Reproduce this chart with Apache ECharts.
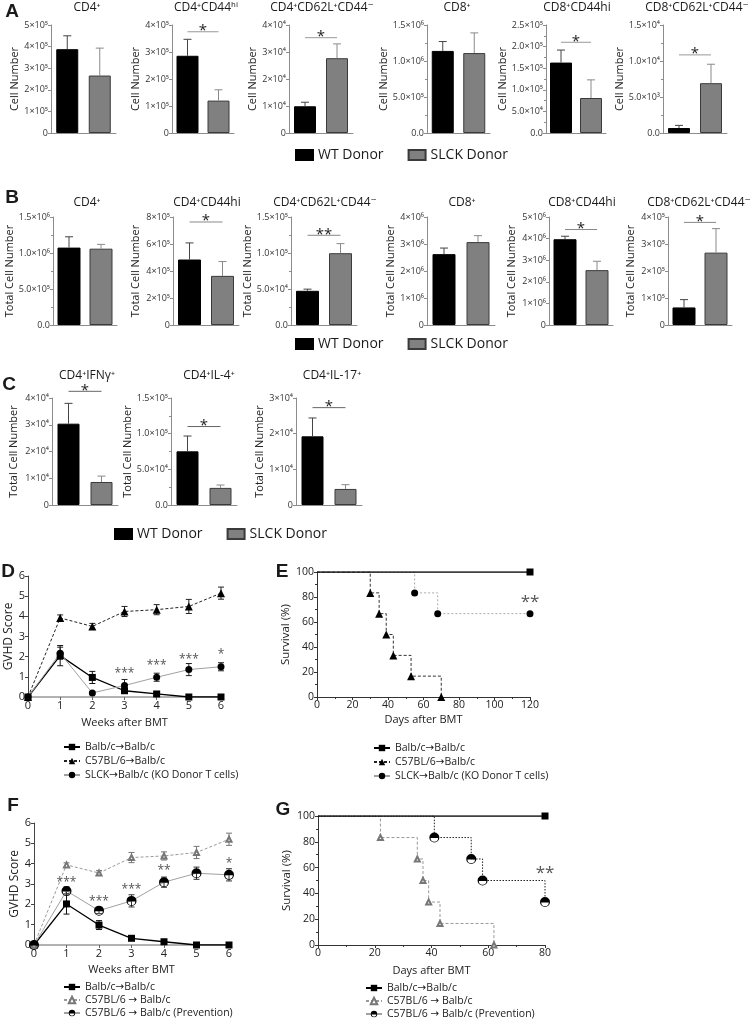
<!DOCTYPE html>
<html>
<head>
<meta charset="utf-8">
<script src="https://cdn.jsdelivr.net/npm/echarts@6/dist/echarts.min.js"></script>
<style>
  html, body { margin: 0; padding: 0; background: #fff; }
  #chart { width: 750px; height: 1027px; }
</style>
</head>
<body>
<div id="chart"></div>
<script>
// ---------- data ----------
const groups = ['WT Donor', 'SLCK Donor'];

// panel A (cell number)
const aTitles = ['CD4⁺', 'CD4⁺CD44ʰⁱ', 'CD4⁺CD62L⁺CD44⁻', 'CD8⁺', 'CD8⁺CD44hi', 'CD8⁺CD62L⁺CD44⁻'];
const aWt = [3.88e5, 2.86e5, 0.99e4, 1.14e6, 1.63e5, 690];
const aWtSd = [0.62e5, 0.61e5, 0.15e4, 0.13e6, 0.29e5, 370];
const aSlck = [2.66e5, 1.2e5, 2.77e4, 1.11e6, 0.81e5, 6.92e3];
const aSlckSd = [1.27e5, 0.4e5, 0.53e4, 0.28e6, 0.42e5, 2.63e3];
const aSig = [null, 3.75e5, 3.53e4, null, 2.1e5, 1.085e4];
const aSigText = ['', '*', '*', '', '*', '*'];
const aMax = [5e5, 4e5, 4e4, 1.5e6, 2.5e5, 1.5e4];
const aStep = [1e5, 1e5, 1e4, 5e5, 5e4, 5e3];

// panel B (total cell number)
const bTitles = ['CD4⁺', 'CD4⁺CD44hi', 'CD4⁺CD62L⁺CD44⁻', 'CD8⁺', 'CD8⁺CD44hi', 'CD8⁺CD62L⁺CD44⁻'];
const bWt = [1.075e6, 4.85e5, 4.75e4, 2.625e6, 3.97e6, 0.65e5];
const bWtSd = [0.15e6, 1.23e5, 0.23e4, 0.225e6, 0.14e6, 0.29e5];
const bSlck = [1.06e6, 3.64e5, 9.97e4, 3.07e6, 2.54e6, 2.68e5];
const bSlckSd = [0.06e6, 1.06e5, 1.33e4, 0.24e6, 0.41e6, 0.89e5];
const bSig = [null, 7.63e5, 1.246e5, null, 4.42e6, 3.8e5];
const bSigText = ['', '*', '**', '', '*', '*'];
const bMax = [1.5e6, 8e5, 1.5e5, 4e6, 5e6, 4e5];
const bStep = [5e5, 2e5, 5e4, 1e6, 1e6, 1e5];

// panel C (cytokine producing cells)
const cTitles = ['CD4⁺IFNγ⁺', 'CD4⁺IL-4⁺', 'CD4⁺IL-17⁺'];
const cWt = [3.04e4, 7.52e4, 1.925e4];
const cWtSd = [0.76e4, 2.15e4, 0.515e4];
const cSlck = [0.86e4, 2.4e4, 0.45e4];
const cSlckSd = [0.22e4, 0.4e4, 0.12e4];
const cSig = [4.25e4, 1.10e5, 2.73e4];
const cSigText = ['*', '*', '*'];
const cMax = [4e4, 1.5e5, 3e4];
const cStep = [1e4, 5e4, 1e4];

// panel D (GVHD score)
const weeks = [0, 1, 2, 3, 4, 5, 6];
const dBalb = [0, 2.05, 0.97, 0.31, 0.15, 0, 0];
const dBalbSd = [0, 0.5, 0.3, 0.1, 0.07, 0, 0];
const dC57 = [0, 3.92, 3.5, 4.24, 4.33, 4.49, 5.15];
const dC57Sd = [0, 0.15, 0.15, 0.25, 0.25, 0.35, 0.3];
const dSlck = [0, 2.17, 0.2, 0.57, 0.98, 1.36, 1.5];
const dSlckSd = [0, 0.3, 0.05, 0.3, 0.2, 0.3, 0.2];
const dSigWeek = [3, 4, 5, 6];
const dSigY = [1.18, 1.54, 1.88, 2.1];
const dSigText = ['***', '***', '***', '*'];

// panel E (survival, days)
const eBalb = [[0, 100], [120, 100]];
const eC57 = [[0, 100], [30, 83.3], [35, 66.7], [39, 50], [43, 33.3], [53, 16.7], [70, 0]];
const eSlck = [[0, 100], [55, 83.3], [68, 66.7], [120, 66.7]];
const eSig = [[120, 76]];

// panel F (GVHD score, prevention)
const fBalb = [0, 2.02, 0.98, 0.33, 0.16, 0, 0];
const fBalbSd = [0, 0.5, 0.22, 0.05, 0.05, 0, 0];
const fC57 = [0, 3.94, 3.54, 4.3, 4.38, 4.55, 5.2];
const fC57Sd = [0, 0.1, 0.12, 0.25, 0.2, 0.3, 0.3];
const fPrev = [0, 2.66, 1.69, 2.17, 3.09, 3.53, 3.45];
const fPrevSd = [0, 0.2, 0.15, 0.3, 0.25, 0.3, 0.3];
const fSigWeek = [1, 2, 3, 4, 6];
const fSigY = [3.05, 2.13, 2.75, 3.64, 3.98];
const fSigText = ['***', '***', '***', '**', '*'];

// panel G (survival, prevention)
const gBalb = [[0, 100], [80, 100]];
const gC57 = [[0, 100], [22, 83.3], [35, 66.7], [37, 50], [39, 33.3], [43, 16.7], [62, 0]];
const gPrev = [[0, 100], [41, 83.3], [54, 66.7], [58, 50], [80, 33.3]];
const gSig = [[80, 56]];

// ---------- helpers ----------
const FONT = '"Open Sans", "DejaVu Sans", sans-serif';
const LETTER_FONT = 'bold 19px "Liberation Sans", Arial, sans-serif';
const SUP = '⁰¹²³⁴⁵⁶⁷⁸⁹';
const HALF = 'path://M-10,0A10,10,0,1,1,10,0A10,10,0,1,1,-10,0ZM-7.5,1A7.5,7.5,0,0,0,7.5,1L-7.5,1Z';

const NAME_BALB = 'Balb/c→Balb/c';
const NAME_C57 = 'C57BL/6→Balb/c';
const NAME_SLCK = 'SLCK→Balb/c (KO Donor T cells)';
const NAME_C57F = 'C57BL/6 → Balb/c';
const NAME_PREV = 'C57BL/6 → Balb/c (Prevention)';

const grids = [], xAxes = [], yAxes = [], series = [], graphics = [], legends = [];

function sci(v, dec) {
  if (v === 0) return dec ? '0.0' : '0';
  const e = Math.floor(Math.log10(v) + 1e-9);
  const m = v / Math.pow(10, e);
  const ms = dec ? m.toFixed(1) : String(Math.round(m));
  return ms + '×10' + String(e).split('').map(d => SUP[+d]).join('');
}

function text(str, x, y, font, color) {
  graphics.push({
    type: 'text', x: x, y: y, silent: true,
    style: { text: str, font: font, fill: color || '#1a1a1a', textAlign: 'center', textVerticalAlign: 'middle' }
  });
}

// upward error bar on a bar
function upErr(colors) {
  return function (params, api) {
    const x = api.value(0);
    const lo = api.coord([x, api.value(1)]);
    const hi = api.coord([x, api.value(2)]);
    const st = { stroke: colors[params.dataIndex], lineWidth: 1 };
    return {
      type: 'group', children: [
        { type: 'line', shape: { x1: lo[0], y1: lo[1], x2: hi[0], y2: hi[1] }, style: st },
        { type: 'line', shape: { x1: hi[0] - 4, y1: hi[1], x2: hi[0] + 4, y2: hi[1] }, style: st }
      ]
    };
  };
}

// two sided error bar on a point
function bothErr(color) {
  return function (params, api) {
    const x = api.value(0);
    const lo = api.coord([x, api.value(1)]);
    const hi = api.coord([x, api.value(2)]);
    const st = { stroke: color, lineWidth: 1 };
    return {
      type: 'group', children: [
        { type: 'line', shape: { x1: lo[0], y1: lo[1], x2: hi[0], y2: hi[1] }, style: st },
        { type: 'line', shape: { x1: hi[0] - 3, y1: hi[1], x2: hi[0] + 3, y2: hi[1] }, style: st },
        { type: 'line', shape: { x1: lo[0] - 3, y1: lo[1], x2: lo[0] + 3, y2: lo[1] }, style: st }
      ]
    };
  };
}

// significance line between the two bars
function sigBar(label, color) {
  return function (params, api) {
    const y = api.value(1);
    const a = api.coord([0, y]);
    const b = api.coord([1, y]);
    return {
      type: 'group', children: [
        { type: 'line', shape: { x1: a[0], y1: a[1], x2: b[0], y2: b[1] }, style: { stroke: color, lineWidth: 1 } },
        { type: 'text', style: { x: (a[0] + b[0]) / 2, y: a[1] - 1, text: label, fill: '#222', font: '15px ' + FONT, textAlign: 'center', textVerticalAlign: 'middle' } }
      ]
    };
  };
}

function starText(labels, size) {
  return function (params, api) {
    const p = api.coord([api.value(0), api.value(1)]);
    return { type: 'text', style: { x: p[0], y: p[1], text: labels[params.dataIndex], fill: '#555', font: size + 'px ' + FONT, textAlign: 'center', textVerticalAlign: 'middle' } };
  };
}

function axisBase(color) {
  return {
    axisLine: { show: true, onZero: false, lineStyle: { color: color } },
    axisTick: { show: true, length: 3, lineStyle: { color: color } },
    splitLine: { show: false }
  };
}

function barPanel(c) {
  c.titles.forEach(function (title, i) {
    const gi = grids.length;
    const dec = Math.round(c.step[i] / Math.pow(10, Math.floor(Math.log10(c.step[i]) + 1e-9))) === 5;
    grids.push({ left: c.lefts[i], top: c.top, width: c.widths[i], height: c.height, outerBoundsMode: 'none' });
    xAxes.push(Object.assign(axisBase('#8c8c8c'), {
      gridIndex: gi, type: 'category', data: groups,
      axisLabel: { show: false }, axisTick: { show: false }
    }));
    yAxes.push(Object.assign(axisBase('#8c8c8c'), {
      gridIndex: gi, type: 'value', min: 0, max: c.max[i], interval: c.step[i],
      name: c.yName, nameLocation: 'middle', nameGap: c.gaps[i],
      nameTextStyle: { fontSize: 11, color: '#222', fontFamily: FONT },
      minorTick: { show: dec, splitNumber: 2, length: 2, lineStyle: { color: '#8c8c8c' } },
      axisLabel: { fontSize: 9, color: '#333', margin: 3, fontFamily: FONT, formatter: function (v) { return sci(v, dec); } }
    }));
    series.push({
      name: groups[0], type: 'bar', xAxisIndex: gi, yAxisIndex: gi, data: [c.wt[i], '-'],
      barWidth: c.barWidth, barGap: '-100%', itemStyle: { color: '#000', borderColor: '#000', borderWidth: 1 }
    });
    series.push({
      name: groups[1], type: 'bar', xAxisIndex: gi, yAxisIndex: gi, data: ['-', c.slck[i]],
      barWidth: c.barWidth, barGap: '-100%', itemStyle: { color: '#808080', borderColor: '#3a3a3a', borderWidth: 1 }
    });
    series.push({
      type: 'custom', xAxisIndex: gi, yAxisIndex: gi, silent: true, z: 3,
      data: [[0, c.wt[i], c.wt[i] + c.wtSd[i]], [1, c.slck[i], c.slck[i] + c.slckSd[i]]],
      renderItem: upErr(['#444', '#8a8a8a'])
    });
    if (c.sig[i] != null) {
      series.push({
        type: 'custom', xAxisIndex: gi, yAxisIndex: gi, silent: true, z: 3,
        data: [[0, c.sig[i]]], renderItem: sigBar(c.sigText[i], c.sigColor)
      });
    }
    text(title, c.titleX[i], c.titleY, '12px ' + FONT, '#1a1a1a');
  });
  legends.push({
    data: groups, left: c.legendLeft, top: c.legendTop, icon: 'rect', itemWidth: 17, itemHeight: 10,
    itemGap: 24, padding: 0, textStyle: { fontSize: 14, color: '#1a1a1a', fontFamily: FONT }
  });
}

function lineLegend(names, left, top, gap) {
  legends.push({
    data: names, orient: 'vertical', left: left, top: top, itemWidth: 16, itemHeight: 8, itemGap: gap,
    padding: 0, textStyle: { fontSize: 10.5, lineHeight: 12, color: '#222', fontFamily: FONT }
  });
}

function scorePanel(p) {
  const gi = grids.length;
  grids.push({ left: p.left, top: p.top, width: p.width, height: p.height, outerBoundsMode: 'none' });
  xAxes.push(Object.assign(axisBase('#666'), {
    gridIndex: gi, type: 'value', min: 0, max: 6, interval: 1,
    name: 'Weeks after BMT', nameLocation: 'middle', nameGap: p.xGap,
    nameTextStyle: { fontSize: 11, color: '#222', fontFamily: FONT },
    axisLine: { show: true, onZero: false, lineStyle: { color: '#999', width: 1.5 } },
    axisLabel: { fontSize: 11, color: '#222', margin: 3, fontFamily: FONT }
  }));
  yAxes.push(Object.assign(axisBase('#444'), {
    gridIndex: gi, type: 'value', min: 0, max: 6, interval: 1,
    name: 'GVHD Score', nameLocation: 'middle', nameGap: p.yGap,
    nameTextStyle: { fontSize: 12, color: '#222', fontFamily: FONT },
    axisLabel: { fontSize: 11, color: '#222', margin: 3, fontFamily: FONT }
  }));
  p.lines.forEach(function (l) {
    const errs = [];
    weeks.forEach(function (w, i) {
      if (l.sd[i] > 0) errs.push([w, l.y[i] - l.sd[i], l.y[i] + l.sd[i]]);
    });
    series.push({ type: 'custom', xAxisIndex: gi, yAxisIndex: gi, silent: true, z: 2, data: errs, renderItem: bothErr(l.errColor) });
    series.push({
      name: l.name, type: 'line', xAxisIndex: gi, yAxisIndex: gi, z: 3,
      data: weeks.map(function (w, i) { return [w, l.y[i]]; }),
      symbol: l.symbol, symbolSize: l.size, lineStyle: l.line, itemStyle: l.item
    });
  });
  series.push({
    type: 'custom', xAxisIndex: gi, yAxisIndex: gi, silent: true, z: 4,
    data: p.sigWeek.map(function (w, i) { return [w, p.sigY[i]]; }), renderItem: starText(p.sigText, 12)
  });
}

function survivalPanel(p) {
  const gi = grids.length;
  grids.push({ left: p.left, top: p.top, width: p.width, height: p.height, outerBoundsMode: 'none' });
  xAxes.push(Object.assign(axisBase('#333'), {
    gridIndex: gi, type: 'value', min: 0, max: p.xMax, interval: 20,
    name: 'Days after BMT', nameLocation: 'middle', nameGap: p.xGap,
    nameTextStyle: { fontSize: 11, color: '#222', fontFamily: FONT },
    minorTick: { show: true, splitNumber: 2, length: 2, lineStyle: { color: '#333' } },
    axisLabel: { fontSize: 10.5, color: '#222', margin: 3, fontFamily: FONT }
  }));
  yAxes.push(Object.assign(axisBase('#333'), {
    gridIndex: gi, type: 'value', min: 0, max: 100, interval: 20,
    name: 'Survival (%)', nameLocation: 'middle', nameGap: p.yGap,
    nameTextStyle: { fontSize: 11.5, color: '#222', fontFamily: FONT },
    minorTick: { show: true, splitNumber: 2, length: 2, lineStyle: { color: '#333' } },
    axisLabel: { fontSize: 10.5, color: '#222', margin: 3, fontFamily: FONT }
  }));
  p.lines.forEach(function (l) {
    series.push({
      name: l.name, type: 'line', step: 'end', xAxisIndex: gi, yAxisIndex: gi, z: l.z || 3,
      data: l.data.map(function (pt, i) { return i === 0 ? { value: pt, symbol: 'none' } : pt; }),
      symbol: l.symbol, symbolSize: l.size, lineStyle: l.line, itemStyle: l.item
    });
  });
  series.push({
    type: 'custom', xAxisIndex: gi, yAxisIndex: gi, silent: true, z: 4,
    data: p.sig, renderItem: starText(['**'], 17)
  });
}

// ---------- layout ----------
barPanel({
  titles: aTitles, wt: aWt, wtSd: aWtSd, slck: aSlck, slckSd: aSlckSd, sig: aSig, sigText: aSigText,
  max: aMax, step: aStep, yName: 'Cell Number', sigColor: '#999',
  lefts: [51, 172, 289, 427, 546, 663], widths: [65, 62, 64, 63, 60, 64], gaps: [30, 31, 27, 33, 32, 29],
  top: 25, height: 108, barWidth: 22, titleX: [87, 206, 322, 457, 577, 697], titleY: 8,
  legendLeft: 295, legendTop: 148
});
barPanel({
  titles: bTitles, wt: bWt, wtSd: bWtSd, slck: bSlck, slckSd: bSlckSd, sig: bSig, sigText: bSigText,
  max: bMax, step: bStep, yName: 'Total Cell Number', sigColor: '#888',
  lefts: [53, 173, 291, 427, 549, 668], widths: [64, 66, 66, 68, 64, 64], gaps: [33, 32, 32, 30, 32, 32],
  top: 217, height: 108, barWidth: 23, titleX: [87, 207, 325, 462, 582, 699], titleY: 203,
  legendLeft: 295, legendTop: 337
});
barPanel({
  titles: cTitles, wt: cWt, wtSd: cWtSd, slck: cSlck, slckSd: cSlckSd, sig: cSig, sigText: cSigText,
  max: cMax, step: cStep, yName: 'Total Cell Number', sigColor: '#666',
  lefts: [52, 171, 296], widths: [66, 66, 66], gaps: [33, 30, 29],
  top: 398, height: 107, barWidth: 22, titleX: [87, 209, 332], titleY: 376,
  legendLeft: 114, legendTop: 527
});

scorePanel({
  left: 28, top: 576, width: 193, height: 121, xGap: 20, yGap: 13,
  sigWeek: dSigWeek, sigY: dSigY, sigText: dSigText,
  lines: [
    { name: NAME_BALB, y: dBalb, sd: dBalbSd, errColor: '#111', symbol: 'rect', size: 7,
      line: { color: '#000', width: 1.3 }, item: { color: '#000' } },
    { name: NAME_C57, y: dC57, sd: dC57Sd, errColor: '#222', symbol: 'triangle', size: 8,
      line: { color: '#222', width: 1, type: [3, 2] }, item: { color: '#000' } },
    { name: NAME_SLCK, y: dSlck, sd: dSlckSd, errColor: '#222', symbol: 'circle', size: 7,
      line: { color: '#a0a0a0', width: 1 }, item: { color: '#000' } }
  ]
});
survivalPanel({
  left: 317, top: 572, width: 213, height: 125, xMax: 120, xGap: 17, yGap: 25, sig: eSig,
  lines: [
    { name: NAME_BALB, data: eBalb, symbol: 'rect', size: 7, line: { color: '#000', width: 1.5 }, item: { color: '#000' }, z: 5 },
    { name: NAME_C57, data: eC57, symbol: 'triangle', size: 8, line: { color: '#333', width: 1, type: [3, 2] }, item: { color: '#000' } },
    { name: NAME_SLCK, data: eSlck, symbol: 'circle', size: 7, line: { color: '#aaa', width: 1, type: [2, 2] }, item: { color: '#000' } }
  ]
});
scorePanel({
  left: 34, top: 823, width: 195, height: 122, xGap: 19, yGap: 10,
  sigWeek: fSigWeek, sigY: fSigY, sigText: fSigText,
  lines: [
    { name: NAME_BALB, y: fBalb, sd: fBalbSd, errColor: '#111', symbol: 'rect', size: 7,
      line: { color: '#000', width: 1.3 }, item: { color: '#000' } },
    { name: NAME_C57F, y: fC57, sd: fC57Sd, errColor: '#777', symbol: 'emptyTriangle', size: 5,
      line: { color: '#999', width: 1, type: [3, 2] }, item: { color: '#777' } },
    { name: NAME_PREV, y: fPrev, sd: fPrevSd, errColor: '#333', symbol: HALF, size: 10,
      line: { color: '#a0a0a0', width: 1 }, item: { color: '#000' } }
  ]
});
survivalPanel({
  left: 318, top: 816, width: 227, height: 129, xMax: 80, xGap: 20, yGap: 20, sig: gSig,
  lines: [
    { name: NAME_BALB, data: gBalb, symbol: 'rect', size: 7, line: { color: '#000', width: 1.5 }, item: { color: '#000' }, z: 5 },
    { name: NAME_C57F, data: gC57, symbol: 'emptyTriangle', size: 5, line: { color: '#999', width: 1, type: [3, 2] }, item: { color: '#777' } },
    { name: NAME_PREV, data: gPrev, symbol: HALF, size: 10, line: { color: '#222', width: 1, type: [1.5, 1.5] }, item: { color: '#000' } }
  ]
});

lineLegend([NAME_BALB, NAME_C57, NAME_SLCK], 63, 741, 2);
lineLegend([NAME_BALB, NAME_C57, NAME_SLCK], 373, 742, 2);
lineLegend([NAME_BALB, NAME_C57F, NAME_PREV], 63, 981, 1);
lineLegend([NAME_BALB, NAME_C57F, NAME_PREV], 365, 982, 1);

// panel letters
text('A', 12, 12, LETTER_FONT);
text('B', 12, 198, LETTER_FONT);
text('C', 9, 385, LETTER_FONT);
text('D', 8, 572, LETTER_FONT);
text('E', 282, 572, LETTER_FONT);
text('F', 13, 806, LETTER_FONT);
text('G', 283, 810, LETTER_FONT);

const myChart = echarts.init(document.getElementById('chart'));
myChart.setOption({
  animation: false,
  backgroundColor: '#fff',
  textStyle: { fontFamily: FONT },
  grid: grids,
  xAxis: xAxes,
  yAxis: yAxes,
  legend: legends,
  graphic: graphics,
  series: series
});
</script>
</body>
</html>
